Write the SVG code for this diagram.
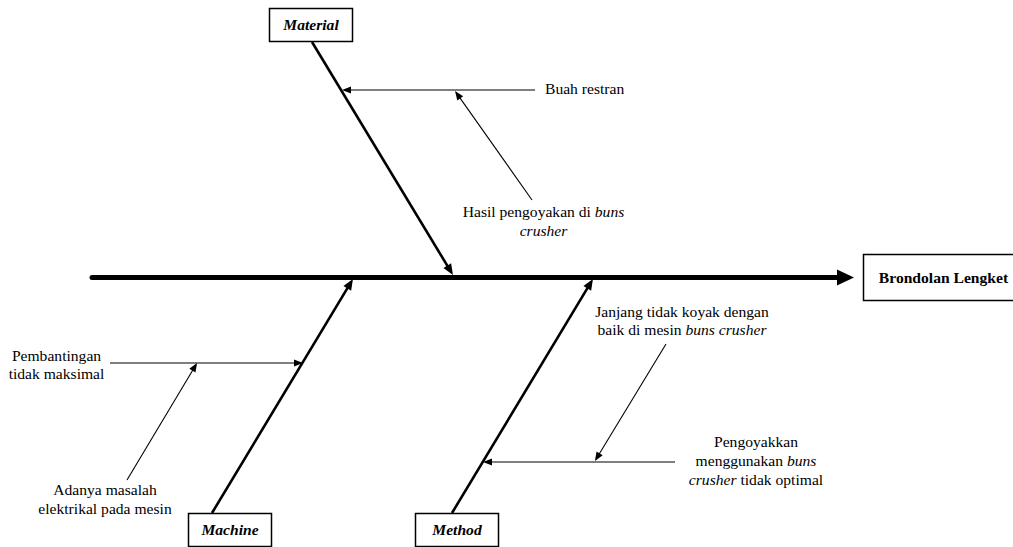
<svg xmlns="http://www.w3.org/2000/svg" width="1013" height="547" viewBox="0 0 1013 547">
<style>
text{font-family:"Liberation Serif","Times New Roman",serif;font-size:15.6px;fill:#000}
.c{text-anchor:middle}
.h{font-weight:bold;font-style:italic}
.b{font-weight:bold}
.i{font-style:italic}
.box{fill:#fff;stroke:#000;stroke-width:1.5}
.bone{stroke:#000;stroke-width:2.6;fill:none}
.sub{stroke:#000;stroke-width:1.1;fill:none}
</style>
<defs>
<marker id="ab" markerUnits="userSpaceOnUse" orient="auto" markerWidth="14" markerHeight="12" refX="7" refY="0" viewBox="0 -6 14 12" overflow="visible"><path d="M0,-4.5 L11,0 L0,4.5 z" fill="#000"/></marker>
<marker id="as" markerUnits="userSpaceOnUse" orient="auto" markerWidth="12" markerHeight="10" refX="7" refY="0" viewBox="0 -5 12 10" overflow="visible"><path d="M0,-3.6 L9,0 L0,3.6 z" fill="#000"/></marker>
<marker id="am" markerUnits="userSpaceOnUse" orient="auto" markerWidth="20" markerHeight="18" refX="3" refY="0" viewBox="0 -9 20 18" overflow="visible"><path d="M0,-8 L17,0 L0,8 z" fill="#000"/></marker>
</defs>
<g id="connectors">
<line x1="92" y1="277.5" x2="840" y2="277.5" stroke="#000" stroke-width="5" stroke-linecap="round" marker-end="url(#am)"/>
<line class="bone" x1="312" y1="42" x2="450.9" y2="271.6" marker-end="url(#ab)"/>
<line class="bone" x1="212" y1="513" x2="350.9" y2="282.4" marker-end="url(#ab)"/>
<line class="bone" x1="452" y1="513" x2="590.9" y2="282.4" marker-end="url(#ab)"/>
<line class="sub" x1="535" y1="90" x2="344" y2="90" marker-end="url(#as)"/>
<line class="sub" x1="532" y1="200" x2="456.2" y2="92.6" marker-end="url(#as)"/>
<line class="sub" x1="110" y1="363" x2="301" y2="363" marker-end="url(#as)"/>
<line class="sub" x1="127" y1="480" x2="196" y2="364.7" marker-end="url(#as)"/>
<line class="sub" x1="666" y1="344" x2="596" y2="459.3" marker-end="url(#as)"/>
<line class="sub" x1="675" y1="462" x2="485" y2="462" marker-end="url(#as)"/>
</g>
<g id="material">
<rect class="box" x="269.5" y="8.5" width="83" height="33"/>
<text class="c h" x="311" y="30">Material</text>
</g>
<g id="machine">
<rect class="box" x="188.5" y="513.5" width="83" height="33"/>
<text class="c h" x="230" y="535">Machine</text>
</g>
<g id="method">
<rect class="box" x="415.5" y="513.5" width="83" height="33"/>
<text class="c h" x="457" y="535">Method</text>
</g>
<g id="effect">
<rect class="box" x="863.5" y="254.5" width="160" height="46"/>
<text class="c b" x="943.5" y="283">Brondolan Lengket</text>
</g>
<g id="buah-restran">
<text x="545" y="94">Buah restran</text>
</g>
<g id="hasil-pengoyakan">
<text class="c" x="543.5" y="217">Hasil pengoyakan di <tspan class="i">buns</tspan></text>
<text class="c i" x="543.5" y="236">crusher</text>
</g>
<g id="pembantingan">
<text class="c" x="56.5" y="361">Pembantingan</text>
<text class="c" x="56.5" y="379">tidak maksimal</text>
</g>
<g id="adanya-masalah">
<text class="c" x="105" y="495">Adanya masalah</text>
<text class="c" x="105" y="514">elektrikal pada mesin</text>
</g>
<g id="janjang">
<text class="c" x="682" y="316.5">Janjang tidak koyak dengan</text>
<text class="c" x="682" y="335">baik di mesin <tspan class="i">buns crusher</tspan></text>
</g>
<g id="pengoyakkan">
<text class="c" x="756" y="447">Pengoyakkan</text>
<text class="c" x="756" y="466">menggunakan <tspan class="i">buns</tspan></text>
<text class="c" x="756" y="485"><tspan class="i">crusher</tspan> tidak optimal</text>
</g>
</svg>
